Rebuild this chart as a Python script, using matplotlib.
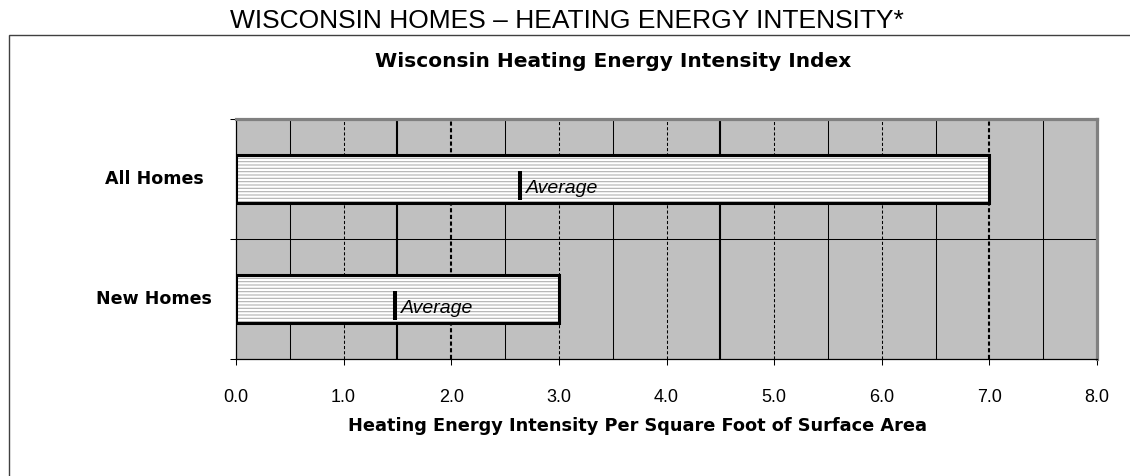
import numpy as np
import matplotlib
matplotlib.use("Agg")
import matplotlib.pyplot as plt
from matplotlib.patches import Rectangle

# --- data ---
categories = ["All Homes", "New Homes"]
intensity = [7.0, 3.0]        # bar ends
averages = [2.636, 1.476]     # "Average" marker positions
x_ticks = [0, 1, 2, 3, 4, 5, 6, 7, 8]

W, H = 1130, 476
plt.rcParams["font.family"] = ["Liberation Sans", "DejaVu Sans"]
plt.rcParams["hatch.linewidth"] = 0.8

fig = plt.figure(figsize=(W / 100, H / 100), dpi=100)
fig.patch.set_facecolor("white")

# outer frame (only left + top edges are inside the picture)
fig.patches.append(Rectangle((8.5 / W, -0.5), 1.5, 1.5 - 35 / H,
                             transform=fig.transFigure, fill=False,
                             edgecolor="#404040", linewidth=1.0, zorder=0))

fig.text(567 / W, 1 - 28 / H, "WISCONSIN HOMES \u2013 HEATING ENERGY INTENSITY*",
         ha="center", va="baseline", fontsize=19)
fig.text(613 / W, 1 - 67 / H, "Wisconsin Heating Energy Intensity Index",
         ha="center", va="baseline", fontsize=14.5, fontweight="bold",
         family=["DejaVu Sans"])

left, right, top, bottom = 236, 1097, 118.5, 359
ax = fig.add_axes([left / W, 1 - bottom / H, (right - left) / W, (bottom - top) / H])
ax.set_facecolor("#c0c0c0")

y = np.arange(len(categories))

# vertical grid every 0.5 with the mixed styles of the original
thin, thick = 0.75, 1.5
grid_style = {
    1.0: ("--", thin), 3.0: ("--", thin), 4.0: ("--", thin), 5.0: ("--", thin),
    6.0: ("--", thin), 1.5: ("-", thick), 4.5: ("-", thick),
    2.0: ("--", thick), 7.0: ("--", thick),
}
for gx in np.arange(0.5, 8.0, 0.5):
    ls, lw = grid_style.get(gx, ("-", thin))
    if ls == "--":
        ax.axvline(gx, color="black", linewidth=lw, linestyle=(0, (3, 2) if lw == thin else (2, 1.2)),
                   zorder=1)
    else:
        ax.axvline(gx, color="black", linewidth=lw, zorder=1)
ax.axhline(0.5, color="black", linewidth=thin, zorder=1)

# bars: white with thin grey horizontal hatching, heavy black outline
ax.barh(y, intensity, height=0.4, color="white", edgecolor="#b0b0b0",
        hatch="-----", linewidth=0, zorder=2)
ax.barh(y, intensity, height=0.4, fill=False, edgecolor="black",
        linewidth=2.2, zorder=3)

for yi, avg in zip(y, averages):
    ax.plot([avg, avg], [yi - 0.067, yi + 0.175], color="black",
            linewidth=2.9, solid_capstyle="butt", zorder=4)
    ax.text(avg + 0.06, yi + 0.117, "Average", fontsize=14, style="italic",
            ha="left", va="baseline", zorder=4)

ax.set_xlim(0, 8)
ax.set_ylim(1.5, -0.5)

ax.set_xticks(x_ticks)
ax.set_xticklabels([f"{v:.1f}" for v in x_ticks], fontsize=13)
ax.tick_params(axis="x", length=4.3, width=0.75, pad=17, direction="out")

# category labels centred in the left margin
ax.set_yticks(y)
ax.set_yticklabels([])
ax.tick_params(axis="y", length=0)
for yi, name in zip(y, categories):
    ax.text((154 - left) / (right - left), yi, name, transform=ax.get_yaxis_transform(),
            ha="center", va="center", fontsize=12.6, fontweight="bold",
            family=["DejaVu Sans"])
ax.set_yticks([-0.5, 0.5, 1.5], minor=True)
ax.tick_params(axis="y", which="minor", length=4.3, width=0.75, direction="out")

ax.set_xlabel("Heating Energy Intensity Per Square Foot of Surface Area",
              fontsize=12.8, fontweight="bold", family=["DejaVu Sans"])
ax.xaxis.label.set_va("baseline")
ax.xaxis.set_label_coords((638 - left) / (right - left), -(431 - bottom) / (bottom - top))

for side in ("top", "right"):
    ax.spines[side].set_color("#808080")
    ax.spines[side].set_linewidth(2.3)
for side in ("left", "bottom"):
    ax.spines[side].set_color("black")
    ax.spines[side].set_linewidth(0.9)

fig.savefig("out.png", dpi=100)
